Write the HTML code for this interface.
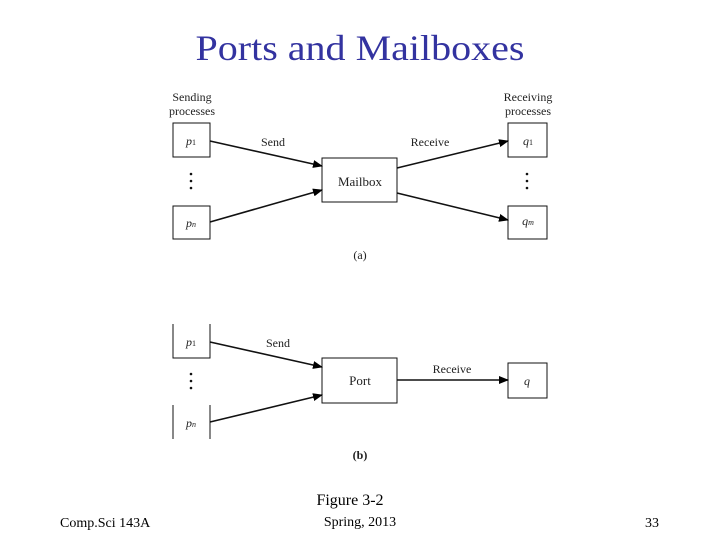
<!DOCTYPE html>
<html><head><meta charset="utf-8"><style>
html,body{margin:0;padding:0;background:#fff;}
svg{display:block;}
text{font-family:"Liberation Serif",serif;}
</style></head><body>
<svg width="720" height="540" viewBox="0 0 720 540" xmlns="http://www.w3.org/2000/svg">
<defs><marker id="a" markerWidth="10" markerHeight="8" refX="9" refY="4" orient="auto" markerUnits="userSpaceOnUse"><path d="M0,0 L10,4 L0,8 Z" fill="#000"/></marker></defs>
<text x="360" y="60" font-size="36" fill="#3333a0" text-anchor="middle" textLength="329" lengthAdjust="spacingAndGlyphs">Ports and Mailboxes</text>
<g font-size="12" fill="#222" text-anchor="middle">
<text x="192" y="101">Sending</text><text x="192" y="115">processes</text>
<text x="528" y="101">Receiving</text><text x="528" y="115">processes</text>
<text x="273" y="146">Send</text><text x="430" y="146">Receive</text>
<text x="360" y="186" font-size="13">Mailbox</text>
<text x="360" y="259">(a)</text>
<text x="278" y="347">Send</text><text x="452" y="373">Receive</text>
<text x="360" y="385" font-size="13">Port</text>
<text x="360" y="459" font-weight="bold">(b)</text>
<g font-style="italic">
<text x="191" y="145">p<tspan font-size="8" font-style="normal">1</tspan></text>
<text x="191" y="227">p<tspan font-size="8">n</tspan></text>
<text x="528" y="145">q<tspan font-size="8" font-style="normal">1</tspan></text>
<text x="528" y="225">q<tspan font-size="8">m</tspan></text>
<text x="191" y="346">p<tspan font-size="8" font-style="normal">1</tspan></text>
<text x="191" y="427">p<tspan font-size="8">n</tspan></text>
<text x="527" y="385">q</text>
</g>
</g>
<g fill="none" stroke="#111" stroke-width="1">
<rect x="173" y="123" width="37" height="34"/>
<rect x="173" y="206" width="37" height="33"/>
<rect x="322" y="158" width="75" height="44"/>
<rect x="508" y="123" width="39" height="34"/>
<rect x="508" y="206" width="39" height="33"/>
<path d="M173,324 V358 H210 V324"/>
<path d="M173,405 V439 M210,405 V439"/>
<rect x="322" y="358" width="75" height="45"/>
<rect x="508" y="363" width="39" height="35"/>
</g>
<g stroke="#111" stroke-width="1.6" marker-end="url(#a)">
<line x1="210" y1="141" x2="322" y2="166"/>
<line x1="210" y1="222" x2="322" y2="190"/>
<line x1="397" y1="168" x2="508" y2="141"/>
<line x1="397" y1="193" x2="508" y2="220"/>
<line x1="210" y1="342" x2="322" y2="367"/>
<line x1="210" y1="422" x2="322" y2="395"/>
<line x1="397" y1="380" x2="508" y2="380"/>
</g>
<g fill="#111">
<circle cx="191" cy="174" r="1.3"/><circle cx="191" cy="181" r="1.3"/><circle cx="191" cy="188" r="1.3"/>
<circle cx="527" cy="174" r="1.3"/><circle cx="527" cy="181" r="1.3"/><circle cx="527" cy="188" r="1.3"/>
<circle cx="191" cy="374" r="1.3"/><circle cx="191" cy="381" r="1.3"/><circle cx="191" cy="388" r="1.3"/>
</g>
<g font-size="14" fill="#000">
<text x="350" y="505" text-anchor="middle" font-size="16">Figure 3-2</text>
<text x="60" y="527">Comp.Sci 143A</text>
<text x="360" y="526" text-anchor="middle">Spring, 2013</text>
<text x="645" y="527">33</text>
</g>
</svg>
</body></html>
